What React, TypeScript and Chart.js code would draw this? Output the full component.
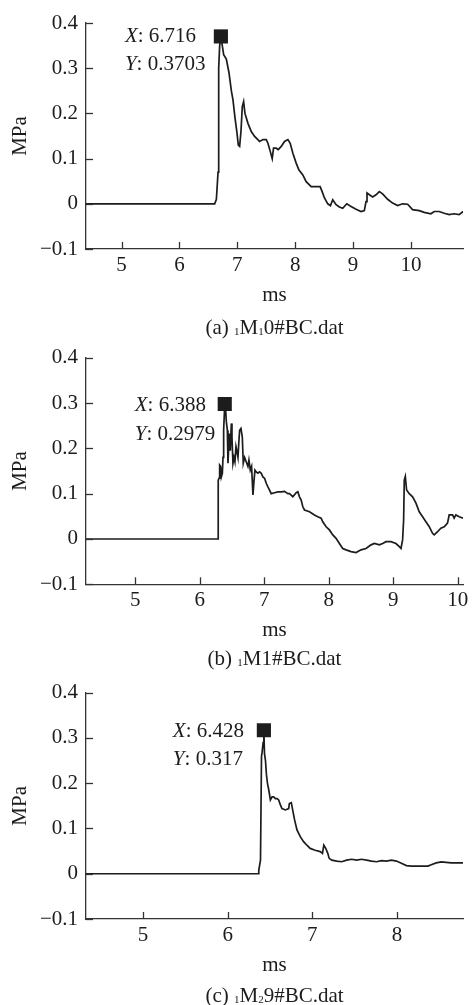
import React, { useEffect, useRef } from "react";
import { Chart, registerables } from "chart.js";

Chart.register(...registerables);

const FONT = "'Liberation Serif', 'Times New Roman', serif";
const FS = 21;
const INK = "#1c1c1c";
const AXIS = "#333333";

// ---------- shared ----------
const Y_TICKS = [-0.1, 0, 0.1, 0.2, 0.3, 0.4];
const Y_MIN = -0.1;
const Y_MAX = 0.4;

// ---------- panel (a) 1M10#BC.dat ----------
const A_TIME = [
  4.385, 6.609, 6.638, 6.667, 6.678, 6.695, 6.716, 6.764, 6.81, 6.856,
  6.897, 6.925, 6.96, 6.994, 7.017, 7.04, 7.063, 7.086, 7.109, 7.132,
  7.184, 7.241, 7.299, 7.385, 7.443, 7.5, 7.529, 7.569, 7.603, 7.626,
  7.672, 7.707, 7.759, 7.816, 7.874, 7.914, 7.96, 8.017, 8.063, 8.132,
  8.19, 8.276, 8.362, 8.431, 8.466, 8.506, 8.563, 8.609, 8.649, 8.707,
  8.764, 8.822, 8.891, 8.966, 9.052, 9.138, 9.195, 9.224, 9.241, 9.282,
  9.339, 9.397, 9.454, 9.511, 9.598, 9.684, 9.77, 9.856, 9.943, 10.029,
  10.144, 10.23, 10.345, 10.402, 10.489, 10.575, 10.661, 10.747, 10.833, 10.902,
];
const A_MPA = [
  0, 0, 0.01, 0.07, 0.3, 0.35, 0.3703, 0.33, 0.32, 0.29,
  0.25, 0.23, 0.19, 0.157, 0.13, 0.127, 0.16, 0.215, 0.226, 0.2,
  0.178, 0.16, 0.149, 0.138, 0.142, 0.142, 0.134, 0.116, 0.1, 0.123,
  0.123, 0.12, 0.127, 0.138, 0.142, 0.134, 0.112, 0.09, 0.075, 0.064,
  0.049, 0.038, 0.038, 0.038, 0.027, 0.013, 0, -0.004, 0.009, -0.002,
  -0.007, -0.01, 0, -0.006, -0.012, -0.017, -0.015, 0.005, 0.024, 0.02,
  0.015, 0.02, 0.027, 0.022, 0.01, 0.0015, -0.004, 0, -0.001, -0.013,
  -0.015, -0.019, -0.022, -0.017, -0.017, -0.021, -0.024, -0.022, -0.024, -0.017,
];
const A_PEAK_X = 6.716;
const A_PEAK_Y = 0.3703;
const A_X_TICKS = [5, 6, 7, 8, 9, 10];

// ---------- panel (b) 1M1#BC.dat ----------
const B_TIME = [
  4.237, 6.284, 6.287, 6.299, 6.309, 6.325, 6.335, 6.351, 6.361, 6.371,
  6.388, 6.402, 6.412, 6.428, 6.438, 6.454, 6.464, 6.474, 6.49, 6.5,
  6.515, 6.531, 6.546, 6.562, 6.577, 6.593, 6.608, 6.619, 6.639, 6.66,
  6.675, 6.696, 6.722, 6.747, 6.763, 6.784, 6.804, 6.825, 6.84, 6.856,
  6.876, 6.902, 6.928, 6.954, 6.979, 7.005, 7.031, 7.057, 7.082, 7.108,
  7.16, 7.211, 7.263, 7.314, 7.366, 7.392, 7.443, 7.495, 7.521, 7.546,
  7.572, 7.598, 7.624, 7.701, 7.778, 7.83, 7.881, 7.907, 7.959, 8.01,
  8.062, 8.113, 8.165, 8.216, 8.268, 8.345, 8.423, 8.5, 8.577, 8.655,
  8.706, 8.784, 8.835, 8.887, 8.964, 9.041, 9.093, 9.119, 9.144, 9.16,
  9.17, 9.186, 9.206, 9.247, 9.299, 9.351, 9.402, 9.454, 9.505, 9.557,
  9.608, 9.634, 9.686, 9.737, 9.789, 9.84, 9.866, 9.918, 9.943, 9.969,
  10.021, 10.082,
];
const B_MPA = [
  0, 0, 0.13, 0.134, 0.163, 0.16, 0.137, 0.145, 0.18, 0.24,
  0.2979, 0.285, 0.26, 0.24, 0.167, 0.218, 0.233, 0.195, 0.255, 0.225,
  0.167, 0.18, 0.17, 0.204, 0.193, 0.18, 0.218, 0.24, 0.244, 0.225,
  0.167, 0.18, 0.17, 0.16, 0.174, 0.152, 0.16, 0.097, 0.126, 0.152,
  0.148, 0.145, 0.148, 0.145, 0.137, 0.134, 0.123, 0.115, 0.108, 0.1,
  0.102, 0.104, 0.104, 0.105, 0.1, 0.1, 0.093, 0.102, 0.104, 0.093,
  0.086, 0.071, 0.064, 0.06, 0.053, 0.049, 0.046, 0.038, 0.027, 0.02,
  0.009, 0.0015, -0.01, -0.021, -0.024, -0.028, -0.03, -0.024, -0.021, -0.013,
  -0.01, -0.013, -0.01, -0.006, -0.006, -0.01, -0.017, -0.021, -0.002, 0.042,
  0.13, 0.138, 0.108, 0.1, 0.093, 0.079, 0.06, 0.049, 0.038, 0.027,
  0.0125, 0.009, 0.016, 0.024, 0.027, 0.035, 0.053, 0.053, 0.046, 0.053,
  0.049, 0.046,
];
const B_PEAK_X = 6.388;
const B_PEAK_Y = 0.2979;
const B_X_TICKS = [5, 6, 7, 8, 9, 10];

// ---------- panel (c) 1M29#BC.dat ----------
const C_TIME = [
  4.324, 6.36, 6.368, 6.388, 6.4, 6.407, 6.419, 6.428, 6.435, 6.447,
  6.458, 6.47, 6.486, 6.505, 6.525, 6.544, 6.564, 6.584, 6.603, 6.623,
  6.642, 6.682, 6.721, 6.729, 6.752, 6.768, 6.791, 6.819, 6.858, 6.897,
  6.936, 6.975, 7.034, 7.093, 7.12, 7.136, 7.159, 7.183, 7.199, 7.23,
  7.289, 7.347, 7.406, 7.465, 7.524, 7.582, 7.641, 7.7, 7.759, 7.817,
  7.876, 7.935, 7.994, 8.052, 8.111, 8.17, 8.229, 8.287, 8.366, 8.405,
  8.464, 8.523, 8.581, 8.64, 8.718, 8.789,
];
const C_MPA = [
  0, 0, 0.008, 0.03, 0.26, 0.268, 0.29, 0.317, 0.266, 0.25,
  0.22, 0.2, 0.185, 0.163, 0.17, 0.17, 0.166, 0.166, 0.163, 0.152,
  0.144, 0.141, 0.144, 0.155, 0.157, 0.141, 0.119, 0.097, 0.082, 0.071,
  0.063, 0.056, 0.052, 0.049, 0.045, 0.063, 0.056, 0.045, 0.034, 0.03,
  0.028, 0.0265, 0.03, 0.032, 0.03, 0.032, 0.03, 0.028, 0.0265, 0.029,
  0.028, 0.03, 0.028, 0.023, 0.018, 0.017, 0.017, 0.017, 0.017, 0.02,
  0.024, 0.026, 0.025, 0.024, 0.024, 0.024,
];
const C_PEAK_X = 6.428;
const C_PEAK_Y = 0.317;
const C_X_TICKS = [5, 6, 7, 8];

const X_TITLE = "ms";
const Y_TITLE = "MPa";

type Part = [string, boolean];

const A_CAPTION: Part[] = [["(a) ", false], ["1", true], ["M", false], ["1", true], ["0#BC.dat", false]];
const B_CAPTION: Part[] = [["(b) ", false], ["1", true], ["M1#BC.dat", false]];
const C_CAPTION: Part[] = [["(c) ", false], ["1", true], ["M", false], ["2", true], ["9#BC.dat", false]];

type Panel = {
  time: number[];
  mpa: number[];
  peakX: number;
  peakY: number;
  xMin: number;
  xMax: number;
  xTicks: number[];
  caption: Part[];
  top: number;
  height: number;
  padTop: number;
  padRight: number;
  xAxisHeight: number;
  titlePadBottom: number;
  captionBaseline: number;
  labelDx: number;
  labelDy: number;
  labelGap: number;
};

const PANELS: Panel[] = [
  {
    time: A_TIME, mpa: A_MPA, peakX: A_PEAK_X, peakY: A_PEAK_Y,
    xMin: 4.385, xMax: 10.9, xTicks: A_X_TICKS, caption: A_CAPTION,
    top: 0, height: 345, padTop: 23, padRight: 9, xAxisHeight: 96,
    titlePadBottom: 36.5, captionBaseline: 334, labelDx: -96, labelDy: 6, labelGap: 27.5,
  },
  {
    time: B_TIME, mpa: B_MPA, peakX: B_PEAK_X, peakY: B_PEAK_Y,
    xMin: 4.238, xMax: 10.08, xTicks: B_X_TICKS, caption: B_CAPTION,
    top: 330, height: 345, padTop: 27.7, padRight: 9, xAxisHeight: 90.7,
    titlePadBottom: 31.5, captionBaseline: 335, labelDx: -90, labelDy: 7, labelGap: 29,
  },
  {
    time: C_TIME, mpa: C_MPA, peakX: C_PEAK_X, peakY: C_PEAK_Y,
    xMin: 4.327, xMax: 8.78, xTicks: C_X_TICKS, caption: C_CAPTION,
    top: 665, height: 340, padTop: 27.7, padRight: 8, xAxisHeight: 86,
    titlePadBottom: 26.5, captionBaseline: 336.5, labelDx: -91, labelDy: 6.7, labelGap: 28.3,
  },
];

function fmtY(v: number): string {
  const r = Math.round(v * 10) / 10;
  if (r === 0) return "0";
  if (r < 0) return "\u2212" + Math.abs(r).toFixed(1);
  return r.toFixed(1);
}

function makeDecor(p: Panel) {
  return {
    id: "decor",
    afterDraw(chart: any) {
      const ctx: CanvasRenderingContext2D = chart.ctx;
      const { left, right, bottom } = chart.chartArea;
      const xs = chart.scales.x;
      const ys = chart.scales.y;
      ctx.save();
      // inward tick marks
      ctx.strokeStyle = AXIS;
      ctx.lineWidth = 1.3;
      xs.ticks.forEach((t: any) => {
        const px = Math.round(xs.getPixelForValue(t.value)) + 0.5;
        ctx.beginPath();
        ctx.moveTo(px, bottom);
        ctx.lineTo(px, bottom - 7);
        ctx.stroke();
      });
      ys.ticks.forEach((t: any) => {
        const py = Math.round(ys.getPixelForValue(t.value)) + 0.5;
        ctx.beginPath();
        ctx.moveTo(left, py);
        ctx.lineTo(left + 7, py);
        ctx.stroke();
      });
      // data tip text
      const mx = xs.getPixelForValue(p.peakX);
      const my = ys.getPixelForValue(p.peakY);
      const tx = mx + p.labelDx;
      const rows: [string, string][] = [["X", ": " + String(p.peakX)], ["Y", ": " + String(p.peakY)]];
      ctx.fillStyle = INK;
      ctx.textBaseline = "alphabetic";
      ctx.textAlign = "left";
      rows.forEach(([k, v], i) => {
        const by = my + p.labelDy + i * p.labelGap;
        ctx.font = `italic ${FS}px ${FONT}`;
        ctx.fillText(k, tx, by);
        const w = ctx.measureText(k).width;
        ctx.font = `${FS}px ${FONT}`;
        ctx.fillText(v, tx + w, by);
      });
      // caption with subscripts
      const widths = p.caption.map(([s, sub]) => {
        ctx.font = sub ? `11px ${FONT}` : `${FS}px ${FONT}`;
        return ctx.measureText(s).width;
      });
      const total = widths.reduce((a, b) => a + b, 0);
      let cx = (left + right) / 2 - total / 2;
      p.caption.forEach(([s, sub], i) => {
        ctx.font = sub ? `11px ${FONT}` : `${FS}px ${FONT}`;
        ctx.fillText(s, cx, p.captionBaseline + (sub ? 1 : 0));
        cx += widths[i];
      });
      ctx.restore();
    },
  };
}

function PanelChart({ p }: { p: Panel }) {
  const ref = useRef<HTMLCanvasElement | null>(null);
  useEffect(() => {
    const canvas = ref.current;
    if (!canvas) return;
    const line = p.time.map((t, i) => ({ x: t, y: p.mpa[i] }));
    const chart = new Chart(canvas, {
      type: "line",
      data: {
        datasets: [
          {
            data: [{ x: p.peakX, y: p.peakY }],
            showLine: false,
            pointStyle: "rect",
            pointRadius: 10,
            pointBackgroundColor: INK,
            pointBorderColor: INK,
            pointBorderWidth: 0,
          },
          {
            data: line,
            borderColor: INK,
            borderWidth: 1.7,
            pointRadius: 0,
            tension: 0,
            fill: false,
          },
        ],
      } as any,
      options: {
        responsive: false,
        animation: false,
        events: [],
        layout: { padding: { top: p.padTop, right: p.padRight, left: 0, bottom: 0 } },
        plugins: { legend: { display: false }, tooltip: { enabled: false } },
        scales: {
          x: {
            type: "linear",
            min: p.xMin,
            max: p.xMax,
            afterBuildTicks: (s: any) => {
              s.ticks = p.xTicks.map((v) => ({ value: v }));
            },
            afterFit: (s: any) => {
              s.height = p.xAxisHeight;
            },
            grid: { display: false, drawTicks: false },
            border: { display: true, color: AXIS, width: 1.3 },
            ticks: {
              padding: 3.5,
              autoSkip: false,
              maxRotation: 0,
              color: INK,
              font: { family: FONT, size: FS },
              callback: (v: any) => String(v),
            },
            title: {
              display: true,
              text: X_TITLE,
              color: INK,
              font: { family: FONT, size: FS },
              padding: { top: 0, bottom: p.titlePadBottom },
            },
          },
          y: {
            type: "linear",
            min: Y_MIN,
            max: Y_MAX,
            afterBuildTicks: (s: any) => {
              s.ticks = Y_TICKS.map((v) => ({ value: v }));
            },
            afterFit: (s: any) => {
              s.width = 86;
            },
            grid: { display: false, drawTicks: false },
            border: { display: true, color: AXIS, width: 1.3 },
            ticks: {
              padding: 8,
              autoSkip: false,
              color: INK,
              font: { family: FONT, size: FS },
              callback: (v: any) => fmtY(Number(v)),
            },
            title: {
              display: true,
              text: Y_TITLE,
              color: INK,
              font: { family: FONT, size: FS },
              padding: { top: 7.4, bottom: 0 },
            },
          },
        },
      } as any,
      plugins: [makeDecor(p)],
    });
    return () => chart.destroy();
  }, [p]);
  return (
    <canvas
      ref={ref}
      width={473}
      height={p.height}
      style={{ position: "absolute", left: 0, top: p.top, width: 473, height: p.height, display: "block" }}
    />
  );
}

export default function App() {
  return (
    <div style={{ position: "absolute", left: 0, top: 0, width: 473, height: 1005, background: "#ffffff", overflow: "hidden" }}>
      {PANELS.map((p, i) => (
        <PanelChart key={i} p={p} />
      ))}
    </div>
  );
}
